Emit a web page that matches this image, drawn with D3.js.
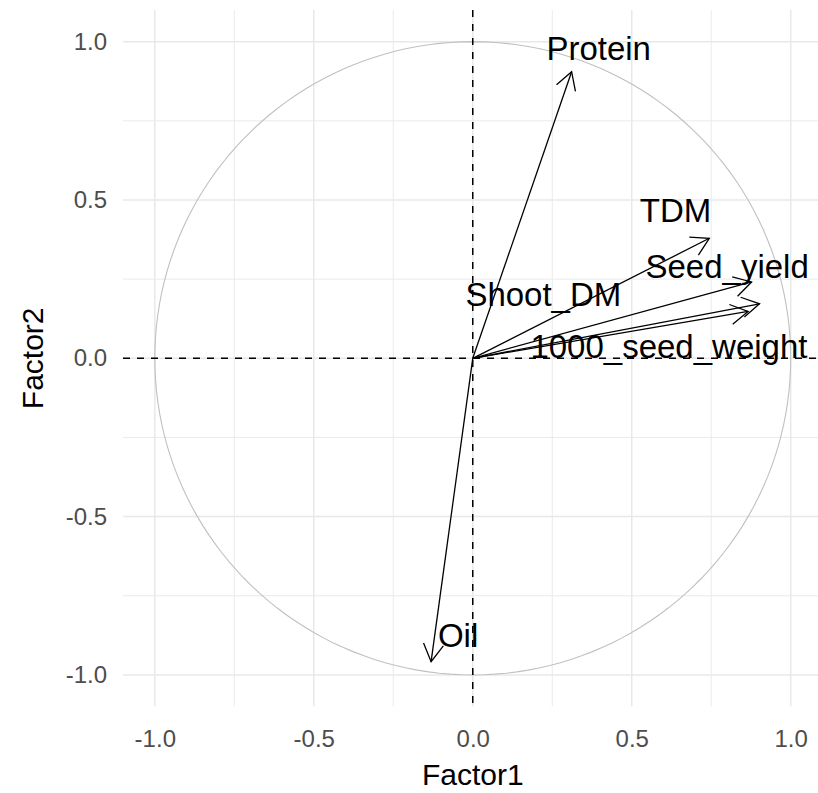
<!DOCTYPE html>
<html>
<head>
<meta charset="utf-8">
<script src="https://cdn.jsdelivr.net/npm/d3@7"></script>
<style>
  html, body { margin: 0; padding: 0; background: #ffffff; }
  svg { display: block; }
  text { font-family: "Liberation Sans", Arial, sans-serif; }
</style>
</head>
<body>
<svg id="chart" width="818" height="793"></svg>
<script>
// Factor loadings (correlation circle) for the measured traits
const variables = ["Protein", "TDM", "Seed_yield", "Shoot_DM", "1000_seed_weight", "Oil"];
const factor1 = [0.311, 0.744, 0.877, 0.902, 0.866, -0.131];
const factor2 = [0.905, 0.379, 0.241, 0.172, 0.148, -0.958];

// Label anchor points (data units), spread apart so they do not overlap
const labelX = [0.396, 0.638, 0.800, 0.222, 0.617, -0.046];
const labelY = [0.980, 0.467, 0.292, 0.203, 0.039, -0.876];

// Axis breaks
const majorTicks = [-1.0, -0.5, 0.0, 0.5, 1.0];
const minorTicks = [-0.75, -0.25, 0.25, 0.75];

const svg = d3.select("#chart");

const x = d3.scaleLinear().domain([-1.1, 1.1]).range([123, 822.5]);
const y = d3.scaleLinear().domain([-1.1, 1.1]).range([706.6, 10]);

const [x0, x1] = x.range();
const [y0, y1] = y.range();

svg.append("defs").append("clipPath").attr("id", "panel")
  .append("rect").attr("x", x0).attr("y", y1).attr("width", x1 - x0).attr("height", y0 - y1);

const panel = svg.append("g").attr("clip-path", "url(#panel)");

// Grid lines
const grid = panel.append("g");
minorTicks.forEach(t => {
  grid.append("line").attr("x1", x(t)).attr("x2", x(t)).attr("y1", y1).attr("y2", y0)
    .attr("stroke", "#e8e8e8").attr("stroke-width", 0.9);
  grid.append("line").attr("y1", y(t)).attr("y2", y(t)).attr("x1", x0).attr("x2", x1)
    .attr("stroke", "#e8e8e8").attr("stroke-width", 0.9);
});
majorTicks.forEach(t => {
  grid.append("line").attr("x1", x(t)).attr("x2", x(t)).attr("y1", y1).attr("y2", y0)
    .attr("stroke", "#e8e8e8").attr("stroke-width", 1.5);
  grid.append("line").attr("y1", y(t)).attr("y2", y(t)).attr("x1", x0).attr("x2", x1)
    .attr("stroke", "#e8e8e8").attr("stroke-width", 1.5);
});

// Unit circle
const circlePts = d3.range(0, 361, 2).map(a => [Math.cos(a * Math.PI / 180), Math.sin(a * Math.PI / 180)]);
panel.append("path")
  .attr("d", d3.line().x(d => x(d[0])).y(d => y(d[1]))(circlePts))
  .attr("fill", "none").attr("stroke", "#c0c0c0").attr("stroke-width", 1.1);

// Reference lines through the origin
panel.append("line").attr("x1", x0).attr("x2", x1).attr("y1", y(0)).attr("y2", y(0))
  .attr("stroke", "#000").attr("stroke-width", 1.5).attr("stroke-dasharray", "7,7");
panel.append("line").attr("x1", x(0)).attr("x2", x(0)).attr("y1", y1).attr("y2", y0)
  .attr("stroke", "#000").attr("stroke-width", 1.5).attr("stroke-dasharray", "7,7");

// Loading arrows with open heads
const headLen = 20, headAngle = 30 * Math.PI / 180;
const arrows = panel.append("g");
variables.forEach((v, i) => {
  const sx = x(0), sy = y(0);
  const ex = x(factor1[i]), ey = y(factor2[i]);
  const ang = Math.atan2(ey - sy, ex - sx);
  const w1 = [ex - headLen * Math.cos(ang - headAngle), ey - headLen * Math.sin(ang - headAngle)];
  const w2 = [ex - headLen * Math.cos(ang + headAngle), ey - headLen * Math.sin(ang + headAngle)];
  arrows.append("line").attr("x1", sx).attr("y1", sy).attr("x2", ex).attr("y2", ey)
    .attr("stroke", "#000").attr("stroke-width", 1.3);
  arrows.append("path")
    .attr("d", `M${w1[0]},${w1[1]}L${ex},${ey}L${w2[0]},${w2[1]}`)
    .attr("fill", "none").attr("stroke", "#000").attr("stroke-width", 1.3)
    .attr("stroke-linejoin", "miter");
});

// Variable labels
const labelSize = 33;
panel.append("g").selectAll("text").data(variables).join("text")
  .attr("x", (d, i) => x(labelX[i]))
  .attr("y", (d, i) => y(labelY[i]) + 0.358 * labelSize)
  .attr("text-anchor", "middle")
  .attr("font-size", labelSize)
  .attr("fill", "#000")
  .text(d => d);

// Axes
const fmt = v => d3.format(".1f")(Math.abs(v)) === "0.0" ? "0.0" : (v < 0 ? "-" : "") + d3.format(".1f")(Math.abs(v));

const xAxis = svg.append("g").attr("transform", `translate(0,${y0})`)
  .call(d3.axisBottom(x).tickValues(majorTicks).tickSize(0).tickPadding(23.5).tickFormat(fmt));
xAxis.select(".domain").remove();
xAxis.selectAll("text").attr("font-size", 24).attr("fill", "#4d4d4d")
  .attr("font-family", "Liberation Sans, Arial, sans-serif");

const yAxis = svg.append("g").attr("transform", `translate(${x0},0)`)
  .call(d3.axisLeft(y).tickValues(majorTicks).tickSize(0).tickPadding(16).tickFormat(fmt));
yAxis.select(".domain").remove();
yAxis.selectAll("text").attr("font-size", 24).attr("fill", "#4d4d4d")
  .attr("font-family", "Liberation Sans, Arial, sans-serif");

// Axis titles
svg.append("text").attr("x", x(0)).attr("y", 785)
  .attr("text-anchor", "middle").attr("font-size", 30).attr("fill", "#000").text("Factor1");
svg.append("text").attr("transform", `translate(43,${y(0)}) rotate(-90)`)
  .attr("text-anchor", "middle").attr("font-size", 30).attr("fill", "#000").text("Factor2");
</script>
</body>
</html>
